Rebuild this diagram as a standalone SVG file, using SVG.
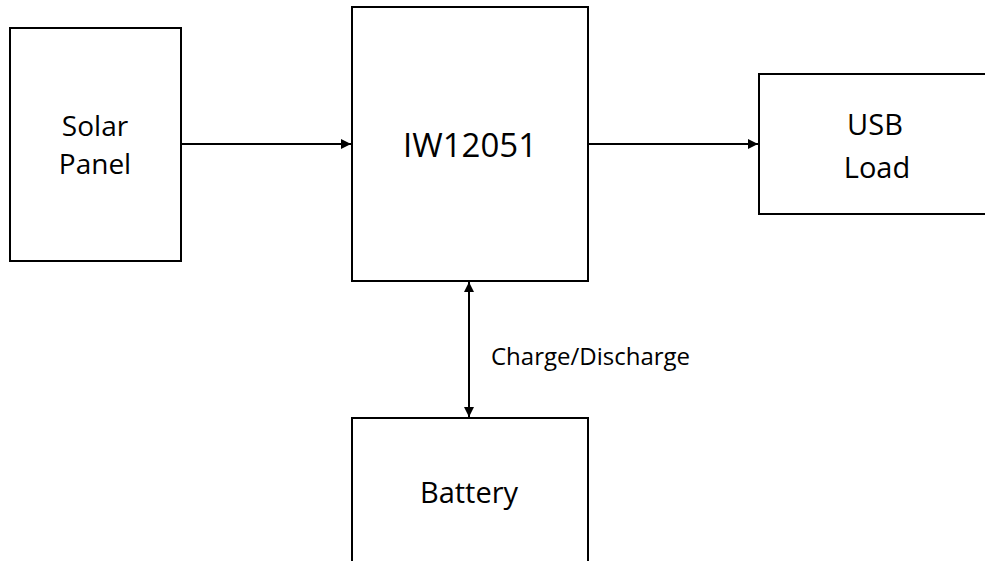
<svg xmlns="http://www.w3.org/2000/svg" width="985" height="561" viewBox="0 0 985 561">
<style>
.box{fill:#fff;stroke:#000;stroke-width:2}
.t{font-family:"Open Sans","Noto Sans",sans-serif;font-size:28px;fill:#000;text-anchor:middle}
.lbl{font-family:"Open Sans","Noto Sans",sans-serif;font-size:24px;fill:#000}
.c{stroke:#000;stroke-width:2;fill:none}
</style>
<defs>
<marker id="ah" viewBox="0 0 10 10" refX="10" refY="5" markerWidth="5" markerHeight="5" orient="auto-start-reverse" markerUnits="strokeWidth">
<path d="M0,0 L10,5 L0,10 z" fill="#000"/>
</marker>
</defs>
<rect width="985" height="561" fill="#fff"/>
<g id="solar"><rect class="box" x="10" y="28" width="171" height="233"/><text class="t" x="95" y="136">Solar</text><text class="t" x="95" y="174">Panel</text></g>
<g id="iw12051"><rect class="box" x="352" y="7" width="236" height="274"/><text class="t" x="470" y="157" style="font-size:33px">IW12051</text></g>
<g id="usb"><rect class="box" x="759" y="74" width="230" height="140"/><text class="t" x="875" y="135" style="font-size:29px">USB</text><text class="t" x="877" y="178" style="font-size:29px">Load</text></g>
<g id="battery"><rect class="box" x="352" y="418" width="236" height="160"/><text class="t" x="469" y="503" style="font-size:29px">Battery</text></g>
<g id="connectors">
<line class="c" x1="181" y1="144" x2="351" y2="144" marker-end="url(#ah)"/>
<line class="c" x1="588" y1="144" x2="758" y2="144" marker-end="url(#ah)"/>
<line class="c" x1="469" y1="282" x2="469" y2="417" marker-start="url(#ah)" marker-end="url(#ah)"/>
<text class="lbl" x="491" y="365">Charge/Discharge</text>
</g>
</svg>
